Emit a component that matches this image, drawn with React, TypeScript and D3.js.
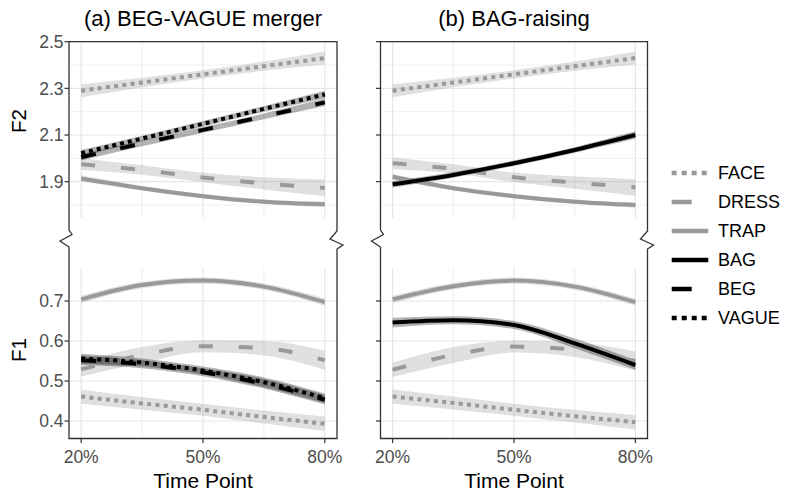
import { useEffect, useRef } from 'react';
import * as d3 from 'd3';

// time points (% of vowel duration) and labels
const timePoints = [20, 35, 50, 65, 80];
const xTicks = [20, 50, 80];
const xMinor = [35, 65];
const f2Ticks = [1.9, 2.1, 2.3, 2.5];
const f2Minor = [1.8, 2.0, 2.2, 2.4];
const f1Ticks = [0.4, 0.5, 0.6, 0.7];
const vowels = ['FACE', 'DRESS', 'TRAP', 'BAG', 'BEG', 'VAGUE'];
const panelTitles = ['(a) BEG-VAGUE merger', '(b) BAG-raising'];

// (a) BEG-VAGUE merger, F2
const aF2Face = [2.29, 2.325, 2.36, 2.395, 2.43];
const aF2Dress = [1.975, 1.95, 1.918, 1.893, 1.873];
const aF2Trap = [1.914, 1.872, 1.838, 1.814, 1.803];
const aF2Beg = [2.005, 2.064, 2.122, 2.18, 2.24];
const aF2Vague = [2.022, 2.085, 2.148, 2.212, 2.274];
// (a) F1
const aF1Face = [0.461, 0.444, 0.428, 0.41, 0.393];
const aF1Dress = [0.529, 0.565, 0.587, 0.582, 0.552];
const aF1Trap = [0.704, 0.74, 0.751, 0.736, 0.697];
const aF1Beg = [0.552, 0.542, 0.522, 0.493, 0.453];
const aF1Vague = [0.556, 0.546, 0.526, 0.497, 0.457];

// (b) BAG-raising, F2
const bF2Face = [2.29, 2.325, 2.36, 2.395, 2.43];
const bF2Dress = [1.979, 1.955, 1.919, 1.896, 1.876];
const bF2Trap = [1.921, 1.872, 1.838, 1.814, 1.8];
const bF2Bag = [1.889, 1.929, 1.979, 2.036, 2.1];
// (b) F1
const bF1Face = [0.461, 0.445, 0.428, 0.412, 0.397];
const bF1Dress = [0.528, 0.565, 0.586, 0.578, 0.55];
const bF1Trap = [0.704, 0.737, 0.751, 0.736, 0.697];
const bF1Bag = [0.646, 0.652, 0.64, 0.594, 0.54];

// half widths of the confidence ribbons
const seFaceF2 = [0.028, 0.02, 0.018, 0.02, 0.028];
const seDressF2 = [0.025, 0.02, 0.02, 0.026, 0.036];
const seTrapF2 = [0.012, 0.01, 0.01, 0.01, 0.012];
const seBlackF2 = [0.014, 0.012, 0.012, 0.012, 0.016];
const seFaceF1 = [0.018, 0.016, 0.015, 0.016, 0.018];
const seDressF1 = [0.018, 0.02, 0.015, 0.018, 0.024];
const seTrapF1 = [0.009, 0.008, 0.008, 0.008, 0.009];
const seBlackF1 = [0.012, 0.01, 0.01, 0.012, 0.012];

const styles = {
  FACE: { color: '#999999', dash: '4 4.3', key: '5 5' },
  DRESS: { color: '#999999', dash: '14 26', key: '20 30' },
  TRAP: { color: '#999999', dash: null, key: null },
  BAG: { color: '#000000', dash: null, key: null },
  BEG: { color: '#000000', dash: '15 25', key: '20 30' },
  VAGUE: { color: '#000000', dash: '4 4', key: '5 5' },
};

const series = [
  { panel: 0, f: 'F2', vowel: 'FACE', fit: aF2Face, se: seFaceF2 },
  { panel: 0, f: 'F2', vowel: 'DRESS', fit: aF2Dress, se: seDressF2 },
  { panel: 0, f: 'F2', vowel: 'TRAP', fit: aF2Trap, se: seTrapF2 },
  { panel: 0, f: 'F2', vowel: 'BEG', fit: aF2Beg, se: seBlackF2 },
  { panel: 0, f: 'F2', vowel: 'VAGUE', fit: aF2Vague, se: seBlackF2 },
  { panel: 0, f: 'F1', vowel: 'FACE', fit: aF1Face, se: seFaceF1 },
  { panel: 0, f: 'F1', vowel: 'DRESS', fit: aF1Dress, se: seDressF1 },
  { panel: 0, f: 'F1', vowel: 'TRAP', fit: aF1Trap, se: seTrapF1 },
  { panel: 0, f: 'F1', vowel: 'BEG', fit: aF1Beg, se: seBlackF1 },
  { panel: 0, f: 'F1', vowel: 'VAGUE', fit: aF1Vague, se: seBlackF1 },
  { panel: 1, f: 'F2', vowel: 'FACE', fit: bF2Face, se: seFaceF2 },
  { panel: 1, f: 'F2', vowel: 'DRESS', fit: bF2Dress, se: seDressF2 },
  { panel: 1, f: 'F2', vowel: 'TRAP', fit: bF2Trap, se: seTrapF2 },
  { panel: 1, f: 'F2', vowel: 'BAG', fit: bF2Bag, se: seBlackF2 },
  { panel: 1, f: 'F1', vowel: 'FACE', fit: bF1Face, se: seFaceF1 },
  { panel: 1, f: 'F1', vowel: 'DRESS', fit: bF1Dress, se: seDressF1 },
  { panel: 1, f: 'F1', vowel: 'TRAP', fit: bF1Trap, se: seTrapF1 },
  { panel: 1, f: 'F1', vowel: 'BAG', fit: bF1Bag, se: seBlackF1 },
];

const FONT = '"Liberation Sans", Arial, sans-serif';

const App = () => {
  const ref = useRef(null);

  useEffect(() => {
    d3.select(ref.current).selectAll('*').remove();

    const width = 785; const height = 494;
    const panelX = [[69, 337], [380.5, 647.5]];
    const top = 41.7; const topBottom = 218;
    const botTop = 268; const bottom = 438.5;

    const svg = d3.select(ref.current)
      .append('svg')
      .attr('width', width)
      .attr('height', height)
      .style('position', 'absolute')
      .style('left', 0)
      .style('top', 0)
      .style('font-family', FONT);

    const yScales = {
      F2: d3.scaleLinear().domain([1.7443, 2.5]).range([topBottom, top]),
      F1: d3.scaleLinear().domain([0.35625, 0.7825]).range([bottom, botTop]),
    };

    panelX.forEach((range, p) => {
      const [L, R] = range;
      const x = d3.scaleLinear().domain([17, 83]).range(range);
      const g = svg.append('g');

      // grid
      const grid = g.append('g');
      f2Minor.forEach(v => grid.append('line')
        .attr('x1', L).attr('x2', R).attr('y1', yScales.F2(v)).attr('y2', yScales.F2(v))
        .attr('stroke', '#f0f0f0').attr('stroke-width', 1));
      f2Ticks.forEach(v => grid.append('line')
        .attr('x1', L).attr('x2', R).attr('y1', yScales.F2(v)).attr('y2', yScales.F2(v))
        .attr('stroke', '#e6e6e6').attr('stroke-width', 1.2));
      f1Ticks.forEach(v => grid.append('line')
        .attr('x1', L).attr('x2', R).attr('y1', yScales.F1(v)).attr('y2', yScales.F1(v))
        .attr('stroke', '#e6e6e6').attr('stroke-width', 1.2));
      xMinor.concat(xTicks).forEach(v => {
        const c = xTicks.includes(v) ? '#e6e6e6' : '#f0f0f0';
        grid.append('line').attr('x1', x(v)).attr('x2', x(v)).attr('y1', top).attr('y2', topBottom)
          .attr('stroke', c).attr('stroke-width', 1.2);
        grid.append('line').attr('x1', x(v)).attr('x2', x(v)).attr('y1', botTop).attr('y2', bottom)
          .attr('stroke', c).attr('stroke-width', 1.2);
      });

      const rows = series.filter(s => s.panel === p);

      // ribbons first, then lines
      rows.forEach(s => {
        const y = yScales[s.f];
        const area = d3.area()
          .x((d, i) => x(timePoints[i]))
          .y0((d, i) => y(d - s.se[i]))
          .y1((d, i) => y(d + s.se[i]))
          .curve(d3.curveMonotoneX);
        g.append('path').attr('d', area(s.fit))
          .attr('fill', styles[s.vowel].color).attr('fill-opacity', 0.3);
      });
      rows.forEach(s => {
        const y = yScales[s.f];
        const line = d3.line()
          .x((d, i) => x(timePoints[i]))
          .y(d => y(d))
          .curve(d3.curveMonotoneX);
        const st = styles[s.vowel];
        g.append('path').attr('d', line(s.fit))
          .attr('fill', 'none')
          .attr('stroke', st.color)
          .attr('stroke-width', 4)
          .attr('stroke-dasharray', st.dash);
      });

      // frame with the broken axis marks on both sides
      g.append('path')
        .attr('d', `M${L},${top} L${L},230 L${L + 3},234.5 L${L - 9},241 L${L},247 ` +
          `L${L},${bottom} L${R},${bottom} L${R},249 ` +
          `L${R + 6},245 L${R - 7},239 L${R},231 L${R},${top} Z`)
        .attr('fill', 'none').attr('stroke', '#333').attr('stroke-width', 1.3);

      // ticks
      f2Ticks.forEach(v => {
        g.append('line').attr('x1', L - 4.5).attr('x2', L).attr('y1', yScales.F2(v)).attr('y2', yScales.F2(v))
          .attr('stroke', '#333').attr('stroke-width', 1.2);
        if (p === 0) g.append('text').attr('x', L - 5.5).attr('y', yScales.F2(v)).attr('dy', '0.36em')
          .attr('text-anchor', 'end').attr('font-size', 17.5).attr('fill', '#4d4d4d').text(v.toFixed(1));
      });
      f1Ticks.forEach(v => {
        g.append('line').attr('x1', L - 4.5).attr('x2', L).attr('y1', yScales.F1(v)).attr('y2', yScales.F1(v))
          .attr('stroke', '#333').attr('stroke-width', 1.2);
        if (p === 0) g.append('text').attr('x', L - 5.5).attr('y', yScales.F1(v)).attr('dy', '0.36em')
          .attr('text-anchor', 'end').attr('font-size', 17.5).attr('fill', '#4d4d4d').text(v.toFixed(1));
      });
      xTicks.forEach(v => {
        g.append('line').attr('x1', x(v)).attr('x2', x(v)).attr('y1', bottom).attr('y2', bottom + 4.5)
          .attr('stroke', '#333').attr('stroke-width', 1.2);
        g.append('text').attr('x', x(v)).attr('y', 462.5).attr('text-anchor', 'middle')
          .attr('font-size', 17.5).attr('fill', '#4d4d4d').text(`${v}%`);
      });

      // titles
      g.append('text').attr('x', (L + R) / 2).attr('y', 26).attr('text-anchor', 'middle')
        .attr('font-size', 22).attr('fill', '#000').text(panelTitles[p]);
      g.append('text').attr('x', (L + R) / 2).attr('y', 488).attr('text-anchor', 'middle')
        .attr('font-size', 21).attr('fill', '#000').text('Time Point');
    });

    // y axis titles
    svg.append('text').attr('transform', 'translate(26,121) rotate(-90)').attr('text-anchor', 'middle')
      .attr('font-size', 20.5).text('F2');
    svg.append('text').attr('transform', 'translate(26,350) rotate(-90)').attr('text-anchor', 'middle')
      .attr('font-size', 20.5).text('F1');

    // legend
    const ly = d3.scalePoint().domain(vowels).range([173, 318]);
    const legend = svg.append('g');
    vowels.forEach(v => {
      const st = styles[v];
      legend.append('line').attr('x1', 671.7).attr('x2', 708.3).attr('y1', ly(v)).attr('y2', ly(v))
        .attr('stroke', st.color).attr('stroke-width', 4.5).attr('stroke-dasharray', st.key);
      legend.append('text').attr('x', 718).attr('y', ly(v)).attr('dy', '0.36em')
        .attr('font-size', 18).attr('fill', '#000').text(v);
    });
  }, []);

  return <div ref={ref}></div>;
};

export default App;
